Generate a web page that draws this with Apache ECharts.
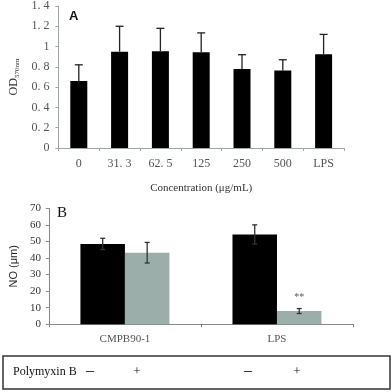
<!DOCTYPE html>
<html><head><meta charset="utf-8">
<script src="https://cdn.jsdelivr.net/npm/echarts@6/dist/echarts.min.js"></script>
<style>html,body{margin:0;padding:0;background:#fff}#c{width:392px;height:392px}</style>
</head><body><div id="c"></div>
<script>
// Panel A
const catsA = ['0', '31.3', '62.5', '125', '250', '500', 'LPS'];
const meanA = [0.66, 0.95, 0.955, 0.945, 0.78, 0.765, 0.925];
const errA  = [0.16, 0.25, 0.225, 0.19, 0.14, 0.105, 0.195];
const yTicksA = [0, 1.4, 0.2];
// Panel B
const catsB = ['CMPB90-1', 'LPS'];
const meanB_minus = [48.5, 54.2];
const errB_minus  = [3.4, 5.8];
const meanB_plus  = [43.2, 8.0];
const errB_plus   = [6.2, 1.5];
const sigB_plus   = ['', '**'];
const yTicksB = [0, 70, 10];
const tableRow = ['Polymyxin B', '–', '+', '–', '+'];

const chart = echarts.init(document.getElementById('c'), null, {renderer: 'canvas'});
const serif = 'Liberation Serif';
const axisCol = '#9aa8a6';

function errA_render(params, api) {
  const i = api.value(0);
  const top = api.coord([i, api.value(1) + api.value(2)]);
  const base = api.coord([i, api.value(1)]);
  const cw = 4;
  return {type: 'group', children: [
    {type: 'line', shape: {x1: base[0], y1: base[1], x2: top[0], y2: top[1]}, style: {stroke: '#222', lineWidth: 1.3}},
    {type: 'line', shape: {x1: top[0]-cw, y1: top[1], x2: top[0]+cw, y2: top[1]}, style: {stroke: '#222', lineWidth: 1.3}}
  ]};
}
function makeErrB(offset) {
  return function (params, api) {
    const i = api.value(0);
    const hi = api.coord([i, api.value(1) + api.value(2)]);
    const lo = api.coord([i, api.value(1) - api.value(2)]);
    const x = hi[0] + offset;
    const cw = 2.5;
    return {type: 'group', children: [
      {type: 'line', shape: {x1: x, y1: lo[1], x2: x, y2: hi[1]}, style: {stroke: '#333', lineWidth: 1.3}},
      {type: 'line', shape: {x1: x-cw, y1: hi[1], x2: x+cw, y2: hi[1]}, style: {stroke: '#333', lineWidth: 1.3}},
      {type: 'line', shape: {x1: x-cw, y1: lo[1], x2: x+cw, y2: lo[1]}, style: {stroke: '#333', lineWidth: 1.3}}
    ]};
  };
}
const fmtDot = v => String(v).replace('.', '. ');

chart.setOption({
  animation: false,
  backgroundColor: '#fff',
  grid: [
    {left: 43, top: 5, width: 301, height: 143},
    {left: 43, top: 208.3, width: 310, height: 116}
  ],
  xAxis: [
    {type: 'category', gridIndex: 0, data: catsA,
     axisLine: {lineStyle: {color: axisCol, width: 1}},
     axisTick: {show: true, inside: false, length: 3, lineStyle: {color: axisCol}},
     axisLabel: {fontFamily: serif, fontSize: 12, color: '#555', margin: 10, formatter: fmtDot},
     name: 'Concentration (μg/mL)', nameLocation: 'middle', nameGap: 35,
     nameTextStyle: {fontFamily: serif, fontSize: 11, color: '#333'}},
    {type: 'category', gridIndex: 1, data: catsB,
     axisLine: {lineStyle: {color: '#888', width: 1}},
     axisTick: {show: true, length: 3, lineStyle: {color: '#888'}},
     axisLabel: {fontFamily: serif, fontSize: 11, color: '#555', margin: 9}}
  ],
  yAxis: [
    {type: 'value', gridIndex: 0, min: yTicksA[0], max: yTicksA[1], interval: yTicksA[2],
     splitLine: {show: false},
     axisLine: {show: true, lineStyle: {color: axisCol}},
     axisTick: {show: true, length: 3, lineStyle: {color: axisCol}},
     axisLabel: {fontFamily: serif, fontSize: 12, color: '#555', margin: 9, formatter: fmtDot},
     name: '{a|OD}{b|570nm}', nameLocation: 'middle', nameGap: 31, nameRotate: 90,
     nameTextStyle: {rich: {a: {fontFamily: serif, fontSize: 12, color: '#333'},
                            b: {fontFamily: serif, fontSize: 7, color: '#333', verticalAlign: 'bottom', padding: [6,0,0,0]}}}},
    {type: 'value', gridIndex: 1, min: yTicksB[0], max: yTicksB[1], interval: yTicksB[2],
     splitLine: {show: false},
     axisLine: {show: true, lineStyle: {color: '#888'}},
     axisTick: {show: true, length: 3, lineStyle: {color: '#888'}},
     axisLabel: {fontFamily: serif, fontSize: 11, color: '#333', margin: 8},
     name: 'NO (μm)', nameLocation: 'middle', nameGap: 22, nameRotate: 90,
     nameTextStyle: {fontFamily: 'Liberation Sans', fontSize: 11, color: '#222'}}
  ],
  series: [
    {type: 'bar', xAxisIndex: 0, yAxisIndex: 0, data: meanA, barWidth: 17,
     itemStyle: {color: '#000'}},
    {type: 'custom', xAxisIndex: 0, yAxisIndex: 0, renderItem: errA_render,
     data: meanA.map((v, i) => [i, v, errA[i]]), z: 5},
    {type: 'bar', xAxisIndex: 1, yAxisIndex: 1, data: meanB_minus, barWidth: 44.5, barGap: '0%',
     itemStyle: {color: '#000'}},
    {type: 'bar', xAxisIndex: 1, yAxisIndex: 1, data: meanB_plus, barWidth: 44.5, barGap: '0%',
     itemStyle: {color: '#9caeaa'},
     label: {show: true, position: 'top', distance: 9, fontFamily: serif, fontSize: 10, color: '#555',
             formatter: p => sigB_plus[p.dataIndex]}},
    {type: 'custom', xAxisIndex: 1, yAxisIndex: 1, renderItem: makeErrB(-22.25),
     data: meanB_minus.map((v, i) => [i, v, errB_minus[i]]), z: 5},
    {type: 'custom', xAxisIndex: 1, yAxisIndex: 1, renderItem: makeErrB(22.25),
     data: meanB_plus.map((v, i) => [i, v, errB_plus[i]]), z: 5}
  ],
  graphic: [
    {type: 'text', left: 69, top: 10, style: {text: 'A', font: 'bold 13px "Liberation Sans"', fill: '#111'}},
    {type: 'text', left: 57, top: 206, style: {text: 'B', font: '15px "Liberation Serif"', fill: '#111'}},
    {type: 'rect', shape: {x: 3, y: 356, width: 387, height: 33}, style: {fill: 'none', stroke: '#333', lineWidth: 1.5}},
    {type: 'text', x: 13, y: 372, style: {text: tableRow[0], font: '12px "Liberation Serif"', fill: '#111', verticalAlign: 'middle'}},
    {type: 'text', x: 90, y: 371, style: {text: tableRow[1], font: '16px "Liberation Serif"', fill: '#111', align: 'center', verticalAlign: 'middle'}},
    {type: 'text', x: 137, y: 372, style: {text: tableRow[2], font: '13px "Liberation Serif"', fill: '#111', align: 'center', verticalAlign: 'middle'}},
    {type: 'text', x: 248, y: 371, style: {text: tableRow[3], font: '16px "Liberation Serif"', fill: '#111', align: 'center', verticalAlign: 'middle'}},
    {type: 'text', x: 297, y: 372, style: {text: tableRow[4], font: '13px "Liberation Serif"', fill: '#111', align: 'center', verticalAlign: 'middle'}}
  ]
});
</script></body></html>
